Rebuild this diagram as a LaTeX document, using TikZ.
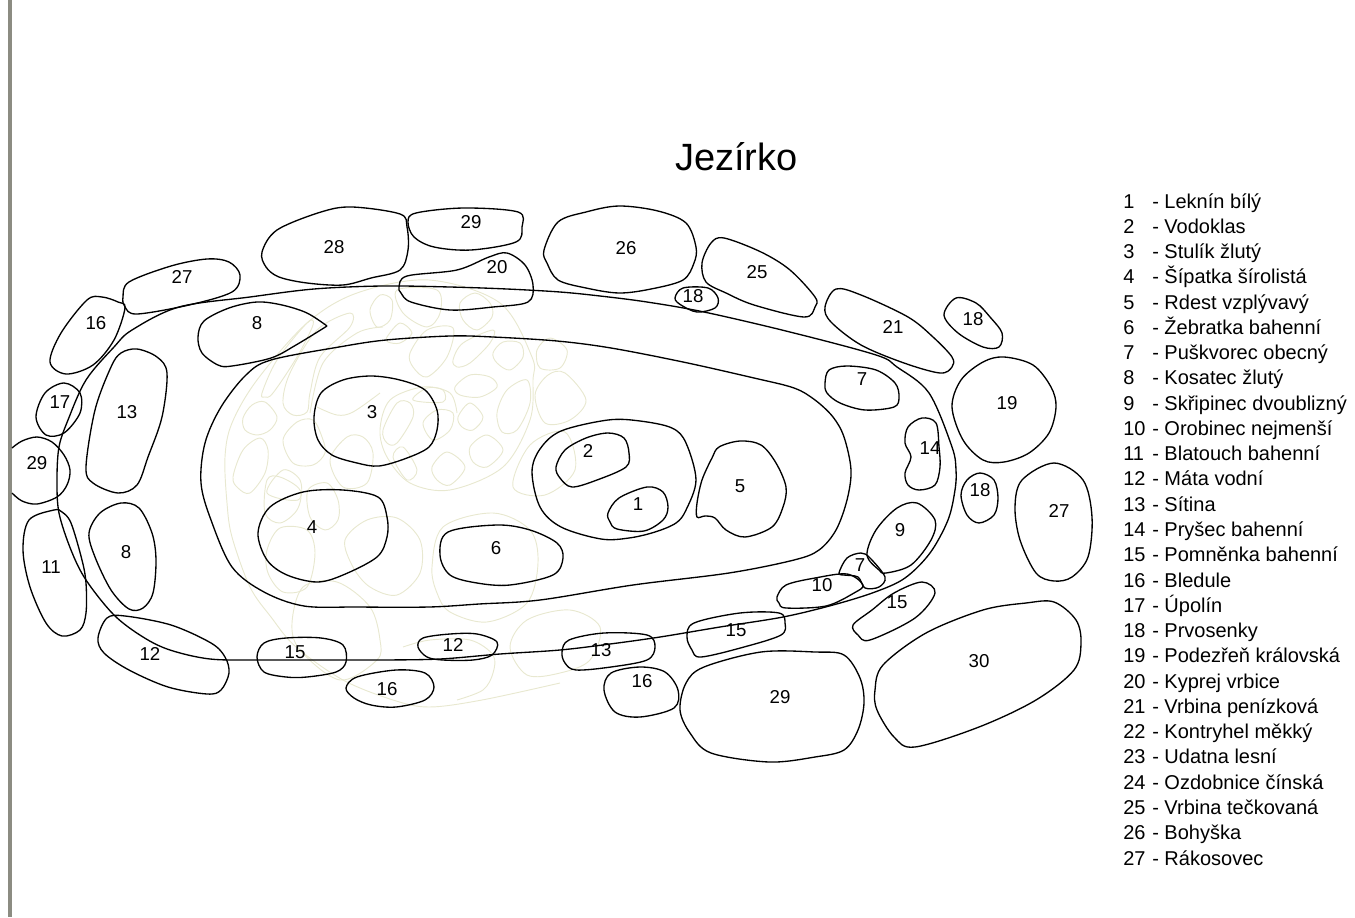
\documentclass[tikz,border=0pt]{standalone}
\usepackage{xcolor}
\usepackage{fontspec}
\setmainfont{Liberation Sans}
\usepackage{tikz}
\definecolor{plantcol}{RGB}{232,232,208}
\definecolor{barcol}{RGB}{140,140,130}
\tikzset{
	bed/.style={draw=black, line width=1pt},
	plant/.style={draw=plantcol, line width=0.7pt},
	round edge/.style={smooth cycle, tension=0.55},
	round line/.style={smooth, tension=0.55},
	num/.style={font=\fontsize{14}{14}\selectfont, inner sep=0pt},
	legnum/.style={font=\fontsize{15}{15}\selectfont, anchor=base west, inner sep=0pt},
}
\begin{document}
\begin{tikzpicture}[x=0.75pt, y=-0.75pt]
	\useasboundingbox (0,0) rectangle (1355,917);
	\fill[barcol] (8,0) rectangle (12,917);

	% pale old planting
	\draw[plant] plot[round line] coordinates {(560,683) (482,700) (429,707) (393,700) (343,680) (296,647) (271,617) (250,587) (232,537) (227,503) (225,457) (232,423) (257,380) (307,323) (357,293) (429,280) (500,303) (532,357) (533,380) (530,420) (503,467) (450,490) (410,483) (387,457) (380,430) (390,400) (423,387) (450,393) (457,413)};
	\draw[plant] plot[round line] coordinates {(310,413) (323,363) (357,333) (383,327)};
	\draw[plant] plot[round line] coordinates {(317,407) (337,415) (353,412) (380,393)};
	\draw[plant] plot[round line] coordinates {(403,647) (430,640) (470,640) (493,655) (493,673) (483,690) (457,700)};
	\foreach \blob in {
		{(243,418) (252,405) (265,402) (277,417) (270,430) (257,435) (245,430)},
		{(233,477) (243,450) (260,438) (268,450) (265,473) (250,493) (238,488)},
		{(283,440) (297,422) (313,420) (322,437) (325,453) (313,465) (293,463)},
		{(262,393) (277,360) (307,323) (313,325) (297,357) (273,393) (265,397)},
		{(283,403) (290,373) (317,330) (350,313) (350,327) (320,357) (310,393) (307,412) (293,415)},
		{(370,310) (380,295) (392,300) (390,320) (377,327)},
		{(387,337) (400,323) (412,333) (400,343) (388,342)},
		{(410,353) (427,330) (453,328) (447,357) (427,377) (413,367)},
		{(453,360) (463,343) (493,330) (490,343) (470,363) (457,367)},
		{(460,303) (475,293) (490,303) (492,317) (477,330) (463,320)},
		{(397,290) (403,313) (427,327) (440,313) (437,290)},
		{(493,353) (503,342) (520,343) (523,357) (510,370) (497,363)},
		{(455,387) (470,375) (490,377) (497,387) (480,397) (460,395)},
		{(497,413) (507,390) (527,380) (530,403) (517,430) (502,432)},
		{(458,417) (470,403) (483,417) (473,430) (462,427)},
		{(470,447) (487,435) (503,450) (487,467) (473,462)},
		{(432,467) (447,452) (465,467) (450,485) (437,480)},
		{(383,430) (397,403) (410,403) (413,417) (397,443) (387,443)},
		{(423,423) (437,410) (453,413) (450,430) (433,440)},
		{(330,460) (347,437) (363,437) (373,453) (367,483) (343,487)},
		{(393,457) (403,447) (417,470) (407,480)},
		{(413,400) (427,388) (443,390) (443,402)},
		{(267,493) (283,470) (300,480) (298,500)},
		{(267,480) (265,513) (280,523) (297,510) (300,490) (280,477)},
		{(308,490) (310,517) (325,530) (338,520) (338,500) (327,483)},
		{(267,550) (280,528) (307,530) (315,553) (307,587) (283,592) (268,573)},
		{(345,540) (367,520) (397,518) (420,540) (420,573) (397,595) (370,587) (353,567)},
		{(432,567) (443,527) (493,513) (530,530) (538,563) (527,603) (487,622) (450,612) (437,593)},
		{(292,623) (303,587) (337,582) (370,607) (380,640) (377,660) (340,680) (300,650)},
		{(510,647) (527,620) (570,610) (600,627) (590,660) (560,673) (527,675)},
		{(535,395) (548,375) (565,373) (586,400) (570,420) (545,423)},
		{(537,350) (550,338) (567,350) (560,368) (540,368)},
		{(513,487) (530,445) (565,432) (575,470) (545,495)}}
		\draw[plant] plot[round edge] coordinates \blob;

	% pond edges
	\draw[bed] plot[round edge] coordinates {(560,292) (507,289) (450,287) (382,286) (314,289) (250,297) (179,307) (132,330) (114,347) (86,380) (68,420) (59,447) (57,480) (59,513) (71,550) (86,580) (114,615) (143,637) (170,650) (210,659) (260,660) (320,660) (380,660) (440,659) (500,654) (560,650) (610,644) (660,637) (720,627) (783,617) (833,605) (875,592) (905,578) (930,553) (948,520) (955,490) (956,470) (952,447) (929,393) (897,367) (876,355) (790,332) (704,312) (647,302) (600,296)};
	\draw[bed] plot[round edge] coordinates {(557,341) (493,337) (450,336) (386,340) (339,347) (271,360) (246,375) (221,407) (205,443) (201,483) (211,520) (232,567) (264,592) (304,606) (357,607) (429,607) (479,604) (540,600) (633,585) (729,573) (794,560) (819,550) (836,530) (847,500) (851,470) (844,437) (833,417) (815,400) (794,388) (754,378) (683,362) (611,348)};

	% beds
	\draw[bed] plot[round edge] coordinates {(262,252) (277,230) (321,212) (352,207) (400,214) (407,227) (408,250) (400,270) (371,278) (343,285) (307,283) (279,277) (266,267)};
	\draw[bed] plot[round edge] coordinates {(408,222) (416,213) (464,208) (518,212) (522,227) (516,242) (471,250) (434,247) (414,237)};
	\draw[bed] plot[round edge] coordinates {(399,287) (407,276) (457,270) (489,257) (507,253) (525,265) (533,285) (528,302) (493,307) (450,310) (411,302) (401,293)};
	\draw[bed] plot[round edge] coordinates {(123,297) (129,282) (171,266) (207,259) (229,262) (240,275) (232,292) (189,305) (137,314) (125,307)};
	\draw[bed] plot[round edge] coordinates {(125,308) (114,340) (93,365) (66,374) (50,362) (61,333) (87,300) (102,297) (118,302)};
	\draw[bed] plot[round edge] coordinates {(36,417) (45,393) (64,383) (80,393) (80,413) (64,433) (46,435)};
	\draw[bed] plot[round line] coordinates {(12,448) (22,441) (37,437) (52,442) (64,455) (70,470) (67,485) (57,497) (37,504) (22,501) (12,493)};
	\draw[bed] plot[round edge] coordinates {(86,467) (95,410) (111,367) (121,353) (137,349) (157,357) (167,373) (162,417) (148,457) (137,485) (118,493) (93,483)};
	\draw[bed] plot[round line] coordinates {(327,326) (307,313) (282,305) (257,302) (229,308) (204,321) (198,337) (202,353) (218,365) (232,366) (271,358) (296,345) (327,326)};
	\draw[bed] plot[round edge] coordinates {(314,417) (321,393) (343,380) (371,376) (400,380) (425,390) (437,410) (437,430) (429,447) (407,458) (379,466) (357,463) (332,455) (318,440)};
	\draw[bed] plot[round edge] coordinates {(54,510) (29,520) (23,550) (30,587) (46,623) (62,636) (80,630) (86,613) (86,583) (82,560) (71,523) (62,512)};
	\draw[bed] plot[round edge] coordinates {(89,533) (100,513) (121,503) (139,508) (152,533) (156,560) (153,593) (143,608) (129,609) (111,590) (95,557)};
	\draw[bed] plot[round edge] coordinates {(98,638) (107,618) (125,616) (171,625) (211,643) (225,657) (229,673) (221,690) (207,694) (168,687) (129,670) (104,653)};
	\draw[bed] plot[round edge] coordinates {(257,657) (264,643) (286,638) (321,638) (343,645) (346,662) (336,672) (307,677) (286,677) (264,672)};
	\draw[bed] plot[round edge] coordinates {(346,688) (357,677) (396,670) (425,673) (434,687) (425,700) (396,707) (371,705) (354,698)};
	\draw[bed] plot[round edge] coordinates {(418,647) (423,638) (450,634) (477,634) (497,642) (492,655) (473,660) (443,660) (427,657)};
	\draw[bed] plot[round edge] coordinates {(258,533) (270,507) (303,492) (343,490) (378,497) (387,517) (387,537) (377,557) (343,575) (317,582) (287,575) (267,560)};
	\draw[bed] plot[round edge] coordinates {(440,555) (448,532) (497,525) (530,530) (557,543) (563,558) (553,575) (510,585) (477,583) (450,575)};
	\draw[bed] plot[round edge] coordinates {(544,250) (558,222) (586,212) (619,206) (658,211) (686,223) (696,247) (694,263) (683,280) (651,289) (619,293) (586,288) (558,280) (547,263)};
	\draw[bed] plot[round edge] coordinates {(702,263) (711,243) (724,238) (761,252) (790,270) (815,297) (815,307) (804,317) (754,305) (726,293) (706,282)};
	\draw[bed] plot[round edge] coordinates {(675,298) (683,288) (708,288) (718,298) (715,308) (697,312) (681,305)};
	\draw[bed] plot[round edge] coordinates {(825,307) (836,289) (861,295) (908,317) (933,337) (952,357) (952,367) (940,373) (904,363) (861,345) (831,322)};
	\draw[bed] plot[round edge] coordinates {(944,315) (956,298) (976,303) (990,317) (1002,333) (999,347) (983,347) (958,333)};
	\draw[bed] plot[round edge] coordinates {(952,407) (961,380) (983,362) (1004,357) (1033,365) (1051,387) (1056,407) (1049,433) (1029,453) (1004,462) (983,460) (963,440)};
	\draw[bed] plot[round edge] coordinates {(825,383) (829,370) (847,366) (876,370) (895,383) (899,397) (894,407) (865,410) (840,403) (827,393)};
	\draw[bed] plot[round edge] coordinates {(922,418) (908,427) (905,443) (911,457) (905,473) (908,485) (919,490) (935,485) (940,467) (939,447) (936,423)};
	\draw[bed] plot[round edge] coordinates {(961,495) (967,480) (980,473) (994,480) (998,498) (994,515) (979,523) (967,515)};
	\draw[bed] plot[round edge] coordinates {(1015,507) (1022,480) (1054,463) (1083,480) (1092,517) (1088,557) (1072,577) (1054,581) (1036,573) (1020,540)};
	\draw[bed] plot[round edge] coordinates {(867,555) (876,530) (897,508) (917,503) (935,520) (931,540) (911,565) (886,573) (879,570)};
	\draw[bed] plot[round edge] coordinates {(839,573) (847,558) (861,553) (870,558) (885,577) (879,587) (865,588) (858,577) (844,575)};
	\draw[bed] plot[round edge] coordinates {(777,597) (786,585) (815,578) (847,574) (863,585) (854,593) (826,606) (786,608) (779,603)};
	\draw[bed] plot[round edge] coordinates {(853,625) (872,610) (894,593) (922,582) (935,593) (915,618) (870,640) (858,635)};
	\draw[bed] plot[round edge] coordinates {(875,690) (883,665) (926,633) (983,610) (1026,603) (1054,602) (1076,620) (1081,643) (1074,670) (1036,700) (979,727) (915,747) (894,737) (877,710)};
	\draw[bed] plot[round edge] coordinates {(680,710) (686,683) (704,667) (761,652) (815,652) (844,655) (860,678) (864,703) (858,730) (844,750) (815,757) (769,762) (711,753) (690,733)};
	\draw[bed] plot[round edge] coordinates {(604,690) (611,673) (640,667) (665,672) (678,690) (674,708) (640,717) (615,712)};
	\draw[bed] plot[round edge] coordinates {(562,652) (569,640) (604,633) (647,635) (655,647) (647,660) (611,667) (576,670) (565,663)};
	\draw[bed] plot[round edge] coordinates {(687,637) (694,623) (740,613) (779,613) (785,623) (781,635) (744,647) (701,657) (692,650)};
	\draw[bed] plot[round edge] coordinates {(532,472) (540,449) (561,431) (608,420) (640,421) (672,428) (686,443) (696,480) (686,510) (676,523) (655,532) (629,538) (601,539) (561,527) (540,507)};
	\draw[bed] plot[round edge] coordinates {(556,467) (565,450) (586,438) (608,433) (624,438) (629,453) (626,467) (597,480) (572,487) (560,478)};
	\draw[bed] plot[round edge] coordinates {(608,513) (619,498) (647,487) (663,492) (668,507) (663,520) (644,531) (617,529) (610,522)};
	\draw[bed] plot[round edge] coordinates {(719,447) (740,441) (761,445) (776,463) (786,487) (783,507) (772,527) (745,537) (726,530) (715,518) (705,516) (697,517) (697,503) (702,480) (712,458)};

	\node[num] (n1) at (638,504) {1};
	\node[num] (n2) at (588,451) {2};
	\node[num] (n3) at (372,412) {3};
	\node[num] (n4) at (312,527) {4};
	\node[num] (n5) at (740,486) {5};
	\node[num] (n6) at (496,548) {6};
	\node[num] (n7a) at (862,379) {7};
	\node[num] (n7b) at (860,565) {7};
	\node[num] (n8a) at (257,323) {8};
	\node[num] (n8b) at (126,552) {8};
	\node[num] (n9) at (900,530) {9};
	\node[num] (n10) at (822,585) {10};
	\node[num] (n11) at (51,567) {11};
	\node[num] (n12a) at (150,654) {12};
	\node[num] (n12b) at (453,645) {12};
	\node[num] (n13a) at (127,412) {13};
	\node[num] (n13b) at (601,650) {13};
	\node[num] (n14) at (930,448) {14};
	\node[num] (n15a) at (295,652) {15};
	\node[num] (n15b) at (736,630) {15};
	\node[num] (n15c) at (897,602) {15};
	\node[num] (n16a) at (96,323) {16};
	\node[num] (n16b) at (387,689) {16};
	\node[num] (n16c) at (642,681) {16};
	\node[num] (n17) at (60,402) {17};
	\node[num] (n18a) at (693,296) {18};
	\node[num] (n18b) at (973,319) {18};
	\node[num] (n18c) at (980,490) {18};
	\node[num] (n19) at (1007,403) {19};
	\node[num] (n20) at (497,267) {20};
	\node[num] (n21) at (893,327) {21};
	\node[num] (n25) at (757,272) {25};
	\node[num] (n26) at (626,248) {26};
	\node[num] (n27a) at (182,277) {27};
	\node[num] (n27b) at (1059,511) {27};
	\node[num] (n28) at (334,247) {28};
	\node[num] (n29a) at (471,222) {29};
	\node[num] (n29b) at (37,463) {29};
	\node[num] (n29c) at (780,697) {29};
	\node[num] (n30) at (979,661) {30};

	\node[font=\fontsize{28.5}{28.5}\selectfont, anchor=base west, inner sep=0pt] (title) at (675,170) {Jezírko};

	\foreach \name [count=\i, evaluate=\i as \rowy using 208+25.27*(\i-1)] in {Leknín bílý, Vodoklas, Stulík žlutý, Šípatka šírolistá, Rdest vzplývavý, Žebratka bahenní, Puškvorec obecný, Kosatec žlutý, Skřipinec dvoublizný, Orobinec nejmenší, Blatouch bahenní, Máta vodní, Sítina, Pryšec bahenní, Pomněnka bahenní, Bledule, Úpolín, Prvosenky, Podezřeň královská, Kyprej vrbice, Vrbina penízková, Kontryhel měkký, Udatna lesní, Ozdobnice čínská, Vrbina tečkovaná, Bohyška, Rákosovec} {
		\node[legnum] (legnum\i) at (1123,\rowy) {\i};
		\node[legnum] (leg\i) at (1152,\rowy) {- \name};
	}
\end{tikzpicture}
\end{document}
